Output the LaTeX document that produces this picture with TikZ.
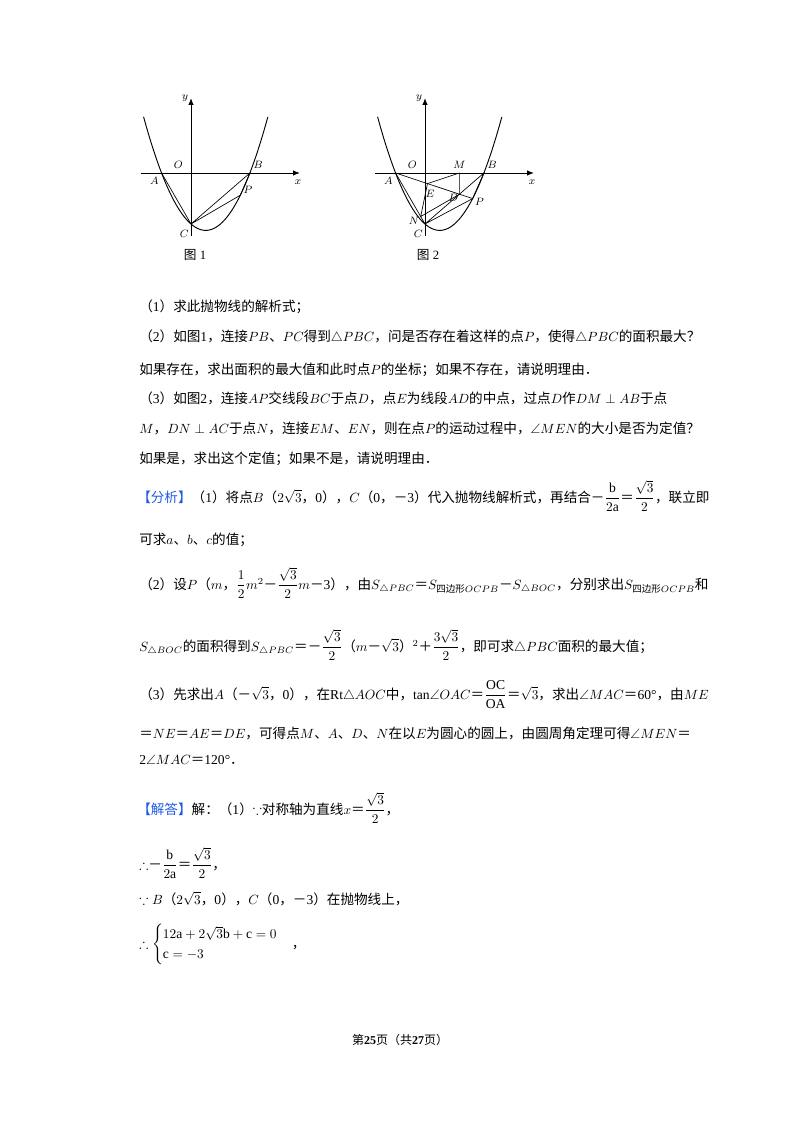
\documentclass[tikz,border=0pt]{standalone}
\usepackage{amsmath,amssymb}
\usepackage{fontspec}
\setmainfont{Liberation Serif}
\newfontfamily\cjk{Noto Sans CJK SC}
\XeTeXinterchartokenstate=1
\newXeTeXintercharclass\CJKcls
\count255="3000 \loop \XeTeXcharclass\count255=\CJKcls \advance\count255 by 1 \ifnum\count255<"3040 \repeat
\count255="4E00 \loop \XeTeXcharclass\count255=\CJKcls \advance\count255 by 1 \ifnum\count255<"A000 \repeat
\count255="FF00 \loop \XeTeXcharclass\count255=\CJKcls \advance\count255 by 1 \ifnum\count255<"FFF0 \repeat
\XeTeXinterchartoks 0 \CJKcls = {\cjk}
\XeTeXinterchartoks 4095 \CJKcls = {\cjk}
\XeTeXinterchartoks \CJKcls 0 = {\rmfamily}
\XeTeXinterchartoks \CJKcls 4095 = {\rmfamily}
\usetikzlibrary{calc,arrows.meta}
\definecolor{hdblue}{RGB}{30,90,230}
\tikzset{
  txt/.style={anchor=base west, inner sep=0pt, font=\fontsize{10.2}{12}\selectfont},
  lbl/.style={inner sep=0pt, font=\fontsize{8.5}{10}\selectfont},
  axis/.style={line width=0.6pt, -{Latex[length=5pt,width=4pt]}},
  seg/.style={line width=0.5pt},
  curve/.style={line width=0.7pt}
}
\newcommand{\hd}[1]{{\color{hdblue}【#1】}}
\begin{document}
\begin{tikzpicture}[x=0.75pt,y=-0.75pt]
\useasboundingbox (0,0) rectangle (800,1132);
% Figure 1
\begin{scope}[shift={(191,173)},x=12.75pt,y=12.75pt]
  \draw[axis] (-2.95,0) -- (6.4,0);
  \draw[axis] (0,-3.7) -- (0,4.4);
  \draw[curve,domain=-2.79:4.52,samples=100] plot (\x,{0.5*\x*\x-0.866*\x-3});
  \coordinate (A1) at (-1.732,0);
  \coordinate (B1) at (3.464,0);
  \coordinate (C1) at (0,-3);
  \coordinate (P1) at (2.9,{0.5*2.9*2.9-0.866*2.9-3});
  \draw[seg] (A1) -- (C1) -- (B1) -- (P1) -- (C1);
  \node[lbl] (lO1) at (-0.75,0.5) {$O$};
  \node[lbl] (lA1) at (-2.15,-0.45) {$A$};
  \node[lbl] (lB1) at (3.95,0.45) {$B$};
  \node[lbl] (lx1) at (6.3,-0.55) {$x$};
  \node[lbl] (ly1) at (-0.35,4.4) {$y$};
  \node[lbl] (lC1) at (-0.4,-3.6) {$C$};
  \node[lbl] (lP1) at (3.35,-1.0) {$P$};
\end{scope}
\node[lbl,font=\fontsize{9.5}{11}\selectfont] (cap1) at (195,255) {图 1};
% Figure 2
\begin{scope}[shift={(425,173)},x=12.75pt,y=12.75pt]
  \draw[axis] (-2.95,0) -- (6.4,0);
  \draw[axis] (0,-3.7) -- (0,4.4);
  \draw[curve,domain=-2.79:4.52,samples=100] plot (\x,{0.5*\x*\x-0.866*\x-3});
  \coordinate (A) at (-1.732,0);
  \coordinate (B) at (3.464,0);
  \coordinate (C) at (0,-3);
  \coordinate (P) at (2.8,{0.5*2.8*2.8-0.866*2.8-3});
  \coordinate (D) at (intersection of A--P and B--C);
  \coordinate (E) at ($(A)!0.5!(D)$);
  \coordinate (M) at (D |- A);
  \coordinate (N) at ($(A)!(D)!(C)$);
  \draw[seg] (A) -- (C) -- (B) -- (P) -- (C);
  \draw[seg] (A) -- (P);
  \draw[seg] (D) -- (M) -- (E) -- (N) -- (D);
  \node[lbl] (lO) at (-0.75,0.5) {$O$};
  \node[lbl] (lA) at (-2.15,-0.45) {$A$};
  \node[lbl] (lB) at (3.95,0.45) {$B$};
  \node[lbl] (lx) at (6.3,-0.55) {$x$};
  \node[lbl] (ly) at (-0.35,4.4) {$y$};
  \node[lbl] (lC) at (-0.4,-3.6) {$C$};
  \node[lbl] (lP) at (3.2,-1.7) {$P$};
  \node[lbl] (lM) at ($(M)+(0,0.5)$) {$M$};
  \node[lbl] (lD) at ($(D)+(-0.35,-0.2)$) {$D$};
  \node[lbl] (lE) at ($(E)+(0.15,-0.6)$) {$E$};
  \node[lbl] (lN) at ($(N)+(-0.4,-0.25)$) {$N$};
\end{scope}
\node[lbl,font=\fontsize{9.5}{11}\selectfont] (cap2) at (428,255) {图 2};
% Problem text
\node[txt] (t1) at (139,311) {（1）求此抛物线的解析式；};
\node[txt] (t2) at (139,341) {（2）如图1，连接$PB$、$PC$得到$\triangle PBC$，问是否存在着这样的点$P$，使得$\triangle PBC$的面积最大？};
\node[txt] (t3) at (139,374) {如果存在，求出面积的最大值和此时点$P$的坐标；如果不存在，请说明理由．};
\node[txt] (t4) at (139,403) {（3）如图2，连接$AP$交线段$BC$于点$D$，点$E$为线段$AD$的中点，过点$D$作$DM\perp AB$于点};
\node[txt] (t5) at (139,433) {$M$，$DN\perp AC$于点$N$，连接$EM$、$EN$，则在点$P$的运动过程中，$\angle MEN$的大小是否为定值？};
\node[txt] (t6) at (139,463) {如果是，求出这个定值；如果不是，请说明理由．};
% Analysis
\node[txt] (a1) at (137,502) {\hd{分析}（1）将点$B$（$2\sqrt3$，0），$C$（0，－3）代入抛物线解析式，再结合－$\dfrac{\mathrm{b}}{2\mathrm{a}}$＝$\dfrac{\sqrt3}{2}$，联立即};
\node[txt] (a2) at (139,544) {可求$a$、$b$、$c$的值；};
\node[txt] (a3) at (139,589) {（2）设$P$（$m$，$\dfrac12m^2$－$\dfrac{\sqrt3}{2}m$－3），由$S_{\triangle PBC}$＝$S_{\text{四边形}OCPB}$－$S_{\triangle BOC}$，分别求出$S_{\text{四边形}OCPB}$和};
\node[txt] (a4) at (139,651) {$S_{\triangle BOC}$的面积得到$S_{\triangle PBC}$＝－$\dfrac{\sqrt3}{2}$（$m$－$\sqrt3$）$^2$＋$\dfrac{3\sqrt3}{2}$，即可求$\triangle PBC$面积的最大值；};
\node[txt] (a5) at (139,699) {（3）先求出$A$（－$\sqrt3$，0），在Rt$\triangle AOC$中，tan$\angle OAC$＝$\dfrac{\mathrm{OC}}{\mathrm{OA}}$＝$\sqrt3$，求出$\angle MAC$＝60°，由$ME$};
\node[txt] (a6) at (139,738) {＝$NE$＝$AE$＝$DE$，可得点$M$、$A$、$D$、$N$在以$E$为圆心的圆上，由圆周角定理可得$\angle MEN$＝};
\node[txt] (a7) at (139,764) {2$\angle MAC$＝120°．};
% Solution
\node[txt] (s1) at (137,814) {\hd{解答}解：（1）$\because$对称轴为直线$x$＝$\dfrac{\sqrt3}{2}$，};
\node[txt] (s2) at (139,869) {$\therefore$－$\dfrac{\mathrm{b}}{2\mathrm{a}}$＝$\dfrac{\sqrt3}{2}$，};
\node[txt] (s3) at (139,904) {$\because B$（$2\sqrt3$，0），$C$（0，－3）在抛物线上，};
\node[txt] (s4) at (139,948) {$\therefore\begin{cases}12\mathrm{a}+2\sqrt3\mathrm{b}+\mathrm{c}=0\\ \mathrm{c}=-3\end{cases}$，};
% Footer
\node[inner sep=0pt,font=\fontsize{9}{11}\selectfont] (foot) at (400,1040) {第\textbf{25}页（共\textbf{27}页）};
\end{tikzpicture}
\end{document}
